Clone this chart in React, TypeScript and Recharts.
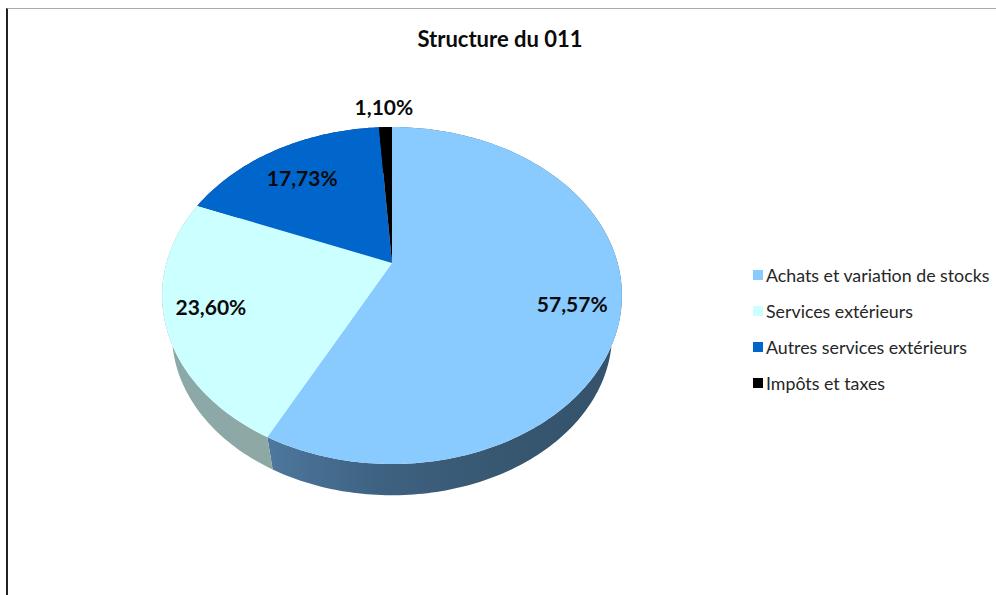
import { PieChart, Pie, Legend } from 'recharts'

const categories = ['Achats et variation de stocks', 'Services extérieurs', 'Autres services extérieurs', 'Impôts et taxes']
const shares = [57.57, 23.6, 17.73, 1.1]
const shareLabels = ['57,57%', '23,60%', '17,73%', '1,10%']
const faceColors = ['#8ACBFF', '#CCFFFF', '#0066CC', '#000000']
const wallFills = ['url(#wallBlue)', 'url(#wallPale)', '#003D7A', '#000000']

// where each percentage sits relative to the projected mid-slice point
const labelNudges = [[10, 11], [-14, -1], [-1, 3], [-3, -50]]

const chartData = categories.map((name, i) => ({ name, value: shares[i], fill: faceColors[i] }))

// tilted-disc projection, the apex of the pie is not the centre of the ellipse
const TILT = 0.193
const FLATTEN = 0.719
const DEPTH_SCALE = 0.957
const DEPTH_DROP = 38.5
const FONT = 'Lato, "Open Sans", sans-serif'

function project(cx: number, cy: number, r: number, angle: number, f = 1) {
  const a = (angle * Math.PI) / 180
  const u = Math.cos(a) * f
  const v = Math.sin(a) * f
  const w = 1 + TILT * v
  return [cx + (r * u) / w, cy - (r * FLATTEN * v) / w]
}

function lowerRim(cx: number, cy: number, r: number, p: number[]) {
  // centre of the visible ellipse, then shrink and drop it
  const midY = cy + (r * FLATTEN * TILT) / (1 - TILT * TILT)
  return [cx + (p[0] - cx) * DEPTH_SCALE, midY + DEPTH_DROP + (p[1] - midY) * DEPTH_SCALE]
}

function rimPoints(cx: number, cy: number, r: number, start: number, end: number) {
  const steps = Math.max(2, Math.ceil(Math.abs(end - start)))
  const pts = []
  for (let i = 0; i <= steps; i++) pts.push(project(cx, cy, r, start + ((end - start) * i) / steps))
  return pts
}

const toPath = (pts: number[][]) => 'M' + pts.map((p) => `${p[0].toFixed(2)},${p[1].toFixed(2)}`).join('L') + 'Z'

function FaceSlice(props: any) {
  const { cx, cy, outerRadius, startAngle, endAngle, fill } = props
  const rim = rimPoints(cx, cy, outerRadius, startAngle, endAngle)
  return <path d={toPath([[cx, cy], ...rim])} fill={fill} stroke="none" />
}

function WallSlice(props: any) {
  const { cx, cy, outerRadius, startAngle, endAngle, index } = props
  const rim = rimPoints(cx, cy, outerRadius, startAngle, endAngle)
  const lower = rim.map((p) => lowerRim(cx, cy, outerRadius, p)).reverse()
  return <path d={toPath([...rim, ...lower])} fill={wallFills[index]} stroke="none" />
}

function renderLabel(props: any) {
  const { cx, cy, outerRadius, midAngle, index } = props
  const p = project(cx, cy, outerRadius, midAngle, 0.75)
  return (
    <text
      x={p[0] + labelNudges[index][0]}
      y={p[1] + labelNudges[index][1]}
      textAnchor="middle"
      dominantBaseline="central"
      fontFamily={FONT}
      fontWeight={700}
      fontSize={21}
      fill="#0a0a0a"
    >
      {shareLabels[index]}
    </text>
  )
}

function LegendList({ payload }: any) {
  const items = (payload || []).filter((entry: any) => entry.type !== 'none')
  return (
    <div style={{ fontFamily: FONT, fontSize: 17.8 }}>
      {items.map((entry: any) => (
        <div key={entry.value} style={{ display: 'flex', alignItems: 'center', height: 36, color: '#262626', whiteSpace: 'nowrap' }}>
          <span style={{ width: 10, height: 10, marginRight: 3, background: entry.color }}></span>
          {entry.value}
        </div>
      ))}
    </div>
  )
}

export default function App() {
  return (
    <div style={{ position: 'absolute', left: 0, top: 0, width: 996, height: 595, background: '#fff', overflow: 'hidden' }}>
      <div style={{ position: 'absolute', left: 6, top: 8, right: 0, bottom: 0, borderLeft: '2px solid #222', borderTop: '1px solid #aaa' }}></div>
      <div style={{ position: 'absolute', left: 0, top: 0 }}>
        <PieChart width={996} height={595} margin={{ top: 0, right: 0, bottom: 0, left: 0 }}>
          <defs>
            <linearGradient id="wallBlue" gradientUnits="userSpaceOnUse" x1="270" y1="0" x2="620" y2="0">
              <stop offset="0" stopColor="#4E779D" />
              <stop offset="0.3" stopColor="#3E6282" />
              <stop offset="0.7" stopColor="#37566F" />
              <stop offset="1" stopColor="#34526C" />
            </linearGradient>
            <linearGradient id="wallPale" gradientUnits="userSpaceOnUse" x1="172" y1="0" x2="275" y2="0">
              <stop offset="0" stopColor="#8BA9A9" />
              <stop offset="1" stopColor="#8EA8A4" />
            </linearGradient>
          </defs>
          <text x={500} y={38} textAnchor="middle" dominantBaseline="central" fontFamily={FONT} fontWeight={700} fontSize={22} fill="#0a0a0a">
            Structure du 011
          </text>
          <Pie
            data={chartData}
            dataKey="value"
            cx={392}
            cy={263}
            outerRadius={225.6}
            startAngle={90}
            endAngle={-270}
            legendType="none"
            shape={WallSlice}
            isAnimationActive={false}
          />
          <Pie
            data={chartData}
            dataKey="value"
            cx={392}
            cy={263}
            outerRadius={225.6}
            startAngle={90}
            endAngle={-270}
            shape={FaceSlice}
            label={renderLabel}
            labelLine={false}
            isAnimationActive={false}
          />
          <Legend
            layout="vertical"
            align="right"
            verticalAlign="top"
            itemSorter={null}
            content={<LegendList />}
            wrapperStyle={{ left: 753, top: 257, width: 240 }}
          />
        </PieChart>
      </div>
    </div>
  )
}
